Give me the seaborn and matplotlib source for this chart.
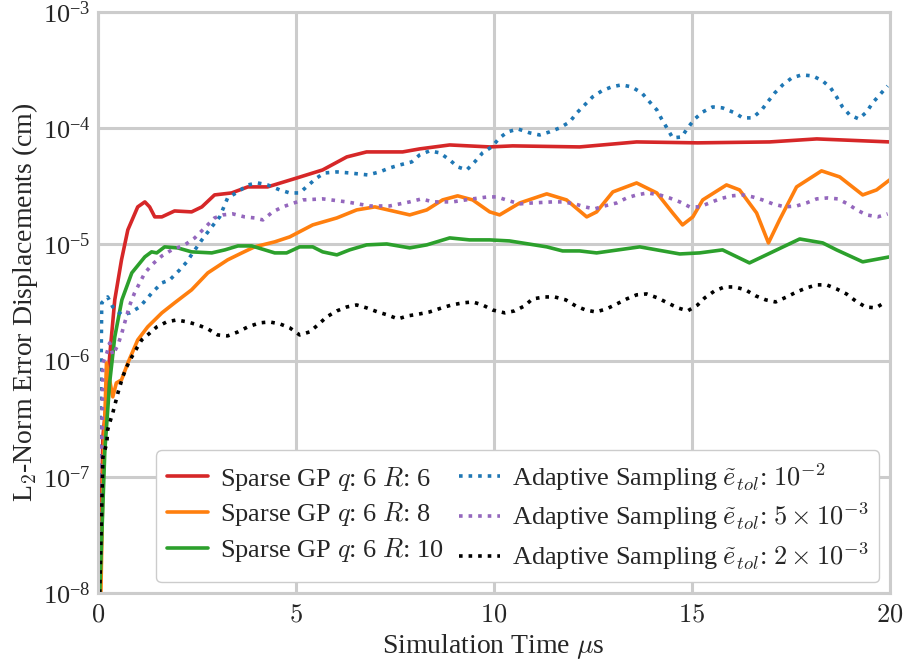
import numpy as np
import pandas as pd
import matplotlib
matplotlib.use("Agg")
import matplotlib.pyplot as plt
from matplotlib.ticker import FuncFormatter, LogLocator, NullLocator
import seaborn as sns

# values: time (us) and log10 of the error (cm)
r6_t = [0.05, 0.13, 0.22, 0.30, 0.43, 0.60, 0.76, 1.01, 1.19, 1.31, 1.44, 1.62, 1.94, 2.37, 2.63,
        2.95, 3.38, 3.79, 4.29, 5.03, 5.68, 6.29, 6.79, 7.70, 8.13, 8.89, 9.90, 10.48, 12.17,
        13.61, 15.15, 16.97, 18.16, 20.0]
r6_log = [-8.0, -6.657, -6.339, -5.969, -5.478, -5.134, -4.876, -4.678, -4.635, -4.678, -4.764,
          -4.764, -4.713, -4.721, -4.678, -4.575, -4.558, -4.506, -4.506, -4.429, -4.360, -4.248,
          -4.205, -4.205, -4.179, -4.145, -4.162, -4.153, -4.162, -4.119, -4.127, -4.119, -4.093,
          -4.119]

r8_t = [0.08, 0.13, 0.22, 0.38, 0.47, 0.60, 0.76, 1.01, 1.26, 1.62, 1.94, 2.37, 2.78, 3.28, 3.64,
        3.96, 4.47, 4.85, 5.43, 6.04, 6.54, 7.0, 7.88, 8.31, 8.71, 9.09, 9.47, 9.90, 10.15, 10.66,
        11.34, 11.84, 12.35, 12.60, 13.01, 13.61, 14.12, 14.52, 14.77, 15.03, 15.28, 15.88, 16.21,
        16.64, 16.94, 17.22, 17.65, 18.28, 18.74, 19.32, 19.67, 20.0]
r8_log = [-8.0, -7.053, -6.021, -6.313, -6.193, -6.167, -6.021, -5.823, -5.711, -5.590, -5.504,
          -5.392, -5.246, -5.134, -5.074, -5.022, -4.979, -4.936, -4.833, -4.773, -4.704, -4.678,
          -4.747, -4.704, -4.618, -4.583, -4.618, -4.721, -4.747, -4.644, -4.566, -4.618, -4.764,
          -4.721, -4.549, -4.472, -4.558, -4.730, -4.833, -4.764, -4.618, -4.489, -4.532, -4.730,
          -4.988, -4.790, -4.506, -4.368, -4.420, -4.575, -4.532, -4.446]

r10_t = [0.05, 0.18, 0.30, 0.43, 0.61, 0.86, 1.19, 1.36, 1.49, 1.69, 2.02, 2.37, 2.88, 3.21, 3.54,
         3.89, 4.22, 4.47, 4.77, 5.10, 5.43, 5.68, 6.04, 6.36, 6.79, 7.30, 7.88, 8.31, 8.89, 9.39,
         9.90, 10.40, 11.34, 11.74, 12.17, 12.60, 13.69, 14.70, 15.20, 15.78, 16.46, 17.15, 17.73,
         18.31, 18.66, 19.32, 20.0]
r10_log = [-8.0, -6.769, -6.193, -5.797, -5.478, -5.246, -5.108, -5.065, -5.074, -5.022, -5.031,
           -5.065, -5.074, -5.048, -5.014, -5.014, -5.048, -5.074, -5.074, -5.022, -5.022, -5.065,
           -5.091, -5.048, -5.005, -4.997, -5.031, -5.005, -4.945, -4.962, -4.962, -4.971, -5.022,
           -5.057, -5.057, -5.074, -5.022, -5.083, -5.074, -5.048, -5.160, -5.048, -4.954, -4.988,
           -5.048, -5.151, -5.108]

tol1_t = [0.03, 0.08, 0.10, 0.25, 0.38, 0.61, 0.81, 1.06, 1.39, 1.62, 1.82, 2.07, 2.25, 2.40,
          2.63, 2.88, 3.08, 3.28, 3.54, 3.79, 4.04, 4.29, 4.60, 4.85, 5.10, 5.30, 5.53, 5.73,
          6.04, 6.36, 6.82, 7.12, 7.37, 7.63, 7.93, 8.13, 8.38, 8.64, 8.89, 9.09, 9.32, 9.52,
          9.72, 9.95, 10.15, 10.35, 10.61, 10.91, 11.16, 11.41, 11.67, 11.92, 12.10, 12.30, 12.50,
          12.73, 12.98, 13.23, 13.48, 13.74, 13.94, 14.12, 14.24, 14.39, 14.52, 14.75, 14.90,
          15.08, 15.28, 15.53, 15.78, 16.09, 16.29, 16.54, 16.77, 16.92, 17.10, 17.30, 17.53,
          17.78, 18.06, 18.31, 18.51, 18.66, 18.81, 18.99, 19.22, 19.42, 19.57, 19.77, 19.95]
tol1_log = [-7.0, -6.193, -5.504, -5.453, -5.539, -5.608, -5.590, -5.539, -5.410, -5.332, -5.306,
            -5.220, -5.151, -5.074, -4.962, -4.850, -4.764, -4.601, -4.549, -4.489, -4.472,
            -4.489, -4.532, -4.558, -4.558, -4.497, -4.429, -4.386, -4.377, -4.386, -4.403,
            -4.377, -4.343, -4.317, -4.291, -4.231, -4.196, -4.213, -4.274, -4.334, -4.360,
            -4.291, -4.213, -4.162, -4.084, -4.033, -4.007, -4.041, -4.059, -4.033, -3.998,
            -3.947, -3.869, -3.800, -3.731, -3.680, -3.645, -3.628, -3.645, -3.697, -3.775,
            -3.843, -3.921, -4.007, -4.084, -4.076, -3.998, -3.921, -3.861, -3.818, -3.826,
            -3.869, -3.912, -3.912, -3.843, -3.775, -3.697, -3.628, -3.568, -3.542, -3.551,
            -3.594, -3.654, -3.731, -3.818, -3.886, -3.921, -3.861, -3.783, -3.706, -3.637]

tol5_t = [0.03, 0.10, 0.13, 0.23, 0.30, 0.38, 0.51, 0.61, 0.68, 0.81, 0.93, 1.06, 1.19, 1.39,
          1.62, 1.87, 2.20, 2.45, 2.70, 2.95, 3.16, 3.41, 3.71, 3.96, 4.17, 4.42, 4.67, 5.18,
          5.68, 6.29, 6.87, 7.37, 7.88, 8.18, 8.46, 8.96, 9.47, 9.85, 10.08, 10.40, 10.66, 10.98,
          11.49, 11.74, 12.05, 12.30, 12.55, 12.80, 13.11, 13.36, 13.61, 13.89, 14.19, 14.44,
          14.70, 14.95, 15.20, 15.45, 15.71, 16.01, 16.29, 16.54, 16.79, 17.05, 17.35, 17.65,
          17.90, 18.16, 18.43, 18.69, 18.94, 19.17, 19.42, 19.70, 19.95]
tol5_log = [-7.5, -6.769, -6.021, -5.935, -5.849, -5.952, -5.866, -5.762, -5.676, -5.522, -5.418,
            -5.332, -5.246, -5.169, -5.100, -5.048, -5.005, -4.945, -4.859, -4.773, -4.747,
            -4.738, -4.764, -4.773, -4.790, -4.721, -4.678, -4.618, -4.609, -4.635, -4.670,
            -4.670, -4.635, -4.609, -4.635, -4.635, -4.609, -4.592, -4.592, -4.627, -4.652,
            -4.644, -4.635, -4.635, -4.652, -4.678, -4.695, -4.670, -4.644, -4.601, -4.575,
            -4.558, -4.575, -4.601, -4.635, -4.678, -4.678, -4.644, -4.609, -4.583, -4.575,
            -4.592, -4.618, -4.652, -4.678, -4.670, -4.644, -4.609, -4.601, -4.609, -4.652,
            -4.704, -4.747, -4.764, -4.738]

tol2_t = [0.05, 0.13, 0.23, 0.25, 0.30, 0.38, 0.51, 0.63, 0.73, 0.86, 0.99, 1.11, 1.26, 1.49,
          1.74, 1.99, 2.27, 2.53, 2.78, 3.03, 3.28, 3.54, 3.79, 4.09, 4.34, 4.60, 4.85, 5.10,
          5.35, 5.56, 5.78, 6.04, 6.29, 6.54, 6.79, 7.07, 7.32, 7.58, 7.83, 8.13, 8.38, 8.69,
          8.94, 9.22, 9.47, 9.72, 9.97, 10.28, 10.53, 10.78, 10.98, 11.29, 11.54, 11.82, 12.07,
          12.32, 12.58, 12.85, 13.11, 13.36, 13.61, 13.86, 14.14, 14.39, 14.65, 14.90, 15.15,
          15.33, 15.58, 15.83, 16.09, 16.36, 16.62, 16.87, 17.12, 17.40, 17.65, 17.90, 18.16,
          18.41, 18.66, 18.91, 19.14, 19.39, 19.65, 19.90]
tol2_log = [-8.0, -6.830, -6.709, -6.597, -6.537, -6.451, -6.279, -6.141, -6.055, -5.969, -5.892,
            -5.823, -5.780, -5.711, -5.668, -5.651, -5.668, -5.694, -5.728, -5.780, -5.788,
            -5.754, -5.711, -5.676, -5.668, -5.685, -5.719, -5.780, -5.754, -5.694, -5.625,
            -5.573, -5.539, -5.522, -5.547, -5.582, -5.608, -5.642, -5.616, -5.599, -5.582,
            -5.547, -5.522, -5.504, -5.496, -5.522, -5.565, -5.590, -5.573, -5.530, -5.470,
            -5.453, -5.453, -5.478, -5.530, -5.565, -5.582, -5.556, -5.513, -5.470, -5.435,
            -5.427, -5.461, -5.504, -5.547, -5.573, -5.522, -5.461, -5.401, -5.367, -5.367,
            -5.392, -5.444, -5.478, -5.496, -5.453, -5.410, -5.375, -5.349, -5.349, -5.384,
            -5.427, -5.487, -5.539, -5.547, -5.496]

labels = [r"Sparse GP $q$: 6 $R$: 6",
          r"Sparse GP $q$: 6 $R$: 8",
          r"Sparse GP $q$: 6 $R$: 10",
          r"Adaptive Sampling $\tilde{e}_{tol}$: $10^{-2}$",
          r"Adaptive Sampling $\tilde{e}_{tol}$: $5 \times 10^{-3}$",
          r"Adaptive Sampling $\tilde{e}_{tol}$: $2 \times 10^{-3}$"]
colors = ["tab:red", "tab:orange", "tab:green", "tab:blue", "tab:purple", "black"]
styles = ["-", "-", "-", ":", ":", ":"]
series = [(r6_t, r6_log), (r8_t, r8_log), (r10_t, r10_log),
          (tol1_t, tol1_log), (tol5_t, tol5_log), (tol2_t, tol2_log)]

FS = 20

sns.set_theme(style="whitegrid")
plt.rcParams.update({
    "font.family": ["Liberation Serif", "DejaVu Serif"],
    "mathtext.fontset": "cm",
    "font.size": FS,
    "grid.color": "#cccccc",
    "grid.linewidth": 2.2,
    "axes.edgecolor": "#cccccc",
    "axes.linewidth": 2.2,
})

fig = plt.figure(figsize=(9.05, 6.61), dpi=100)
ax = fig.add_axes([0.108, 0.103, 0.875, 0.879])

for (t, lg), lab, c, ls in zip(series, labels, colors, styles):
    df = pd.DataFrame({"t": t, "err": 10.0 ** np.array(lg)})
    sns.lineplot(data=df, x="t", y="err", ax=ax, color=c, linestyle=ls, lw=2.6,
                 label=lab, estimator=None)

ax.set_yscale("log")
ax.set_xlim(0, 20)
ax.set_ylim(1e-8, 1e-3)
ax.set_xticks([0, 5, 10, 15, 20])
ax.xaxis.set_major_formatter(FuncFormatter(lambda v, p: f"${v:g}$"))
ax.yaxis.set_major_locator(LogLocator(base=10, numticks=10))
ax.yaxis.set_minor_locator(NullLocator())
ax.tick_params(axis="x", labelsize=FS - 1, length=0, pad=8)
ax.tick_params(axis="y", labelsize=FS - 1, length=0, pad=5)
ax.set_xlabel(r"Simulation Time $\mu$s", fontsize=FS, labelpad=4)
ax.set_ylabel(r"L$_2$-Norm Error Displacements (cm)", fontsize=FS, labelpad=2)

ax.legend(loc="lower right", ncol=2, fontsize=FS - 1, frameon=True, edgecolor="#cccccc",
          framealpha=1.0, handlelength=1.55, handletextpad=0.45, columnspacing=0.6,
          labelspacing=0.3, borderpad=0.4, borderaxespad=0.4)

fig.savefig("out.png", dpi=100)
